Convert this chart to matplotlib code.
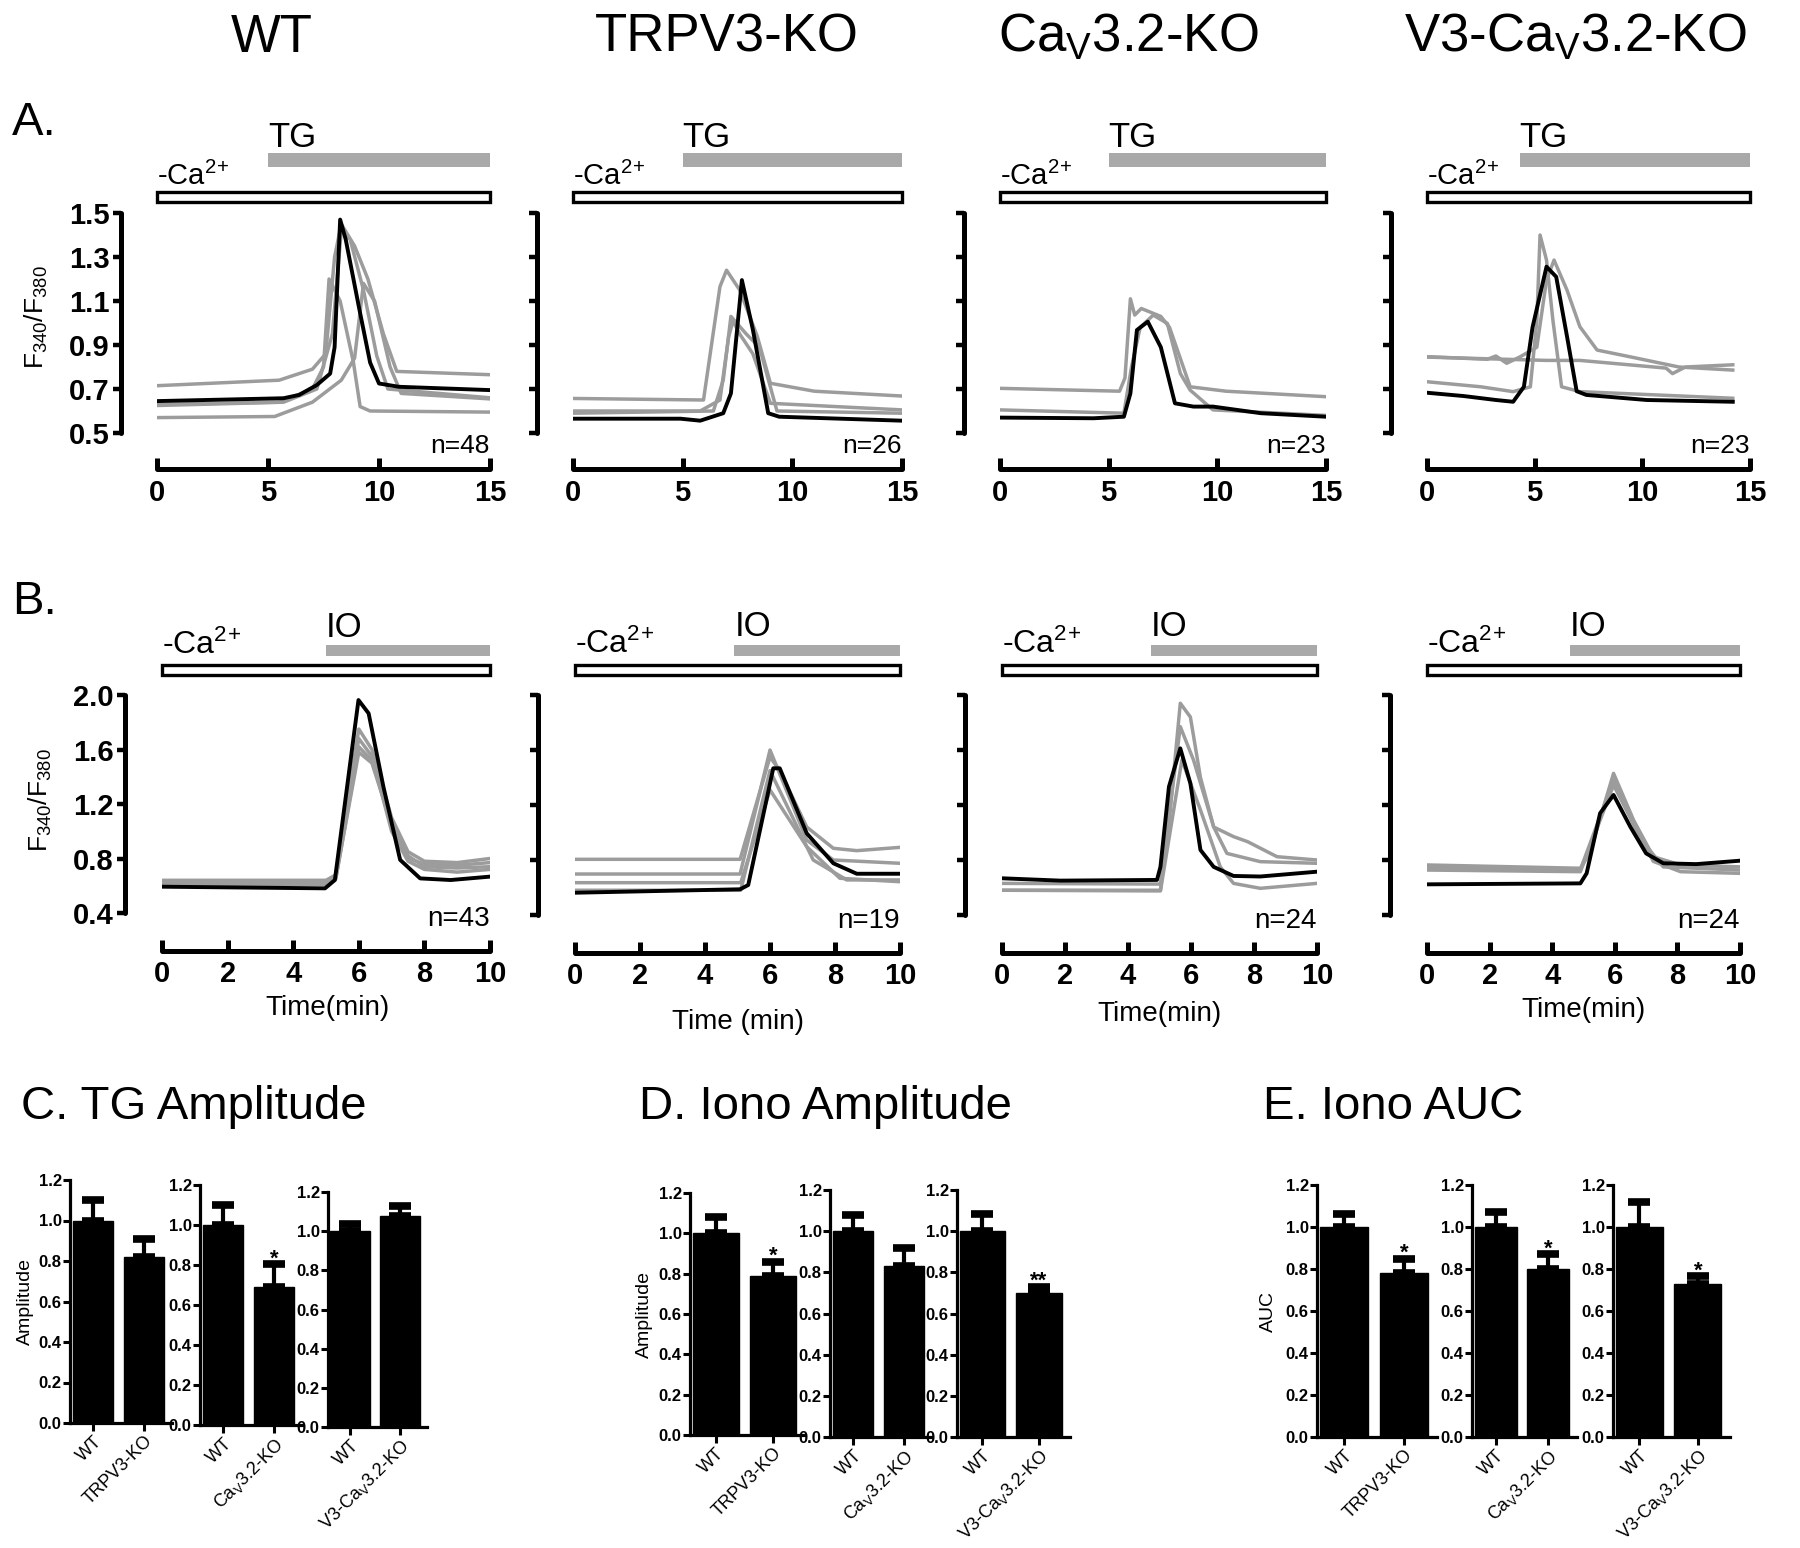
import numpy as np
import matplotlib
matplotlib.use('Agg')
import matplotlib.pyplot as plt
import matplotlib.transforms as mtransforms
from matplotlib.patches import Rectangle

plt.rcParams['font.family'] = ['Liberation Sans', 'DejaVu Sans']
plt.rcParams['mathtext.default'] = 'regular'

# ---------------- data ----------------
# column headers
genotypes = ['WT', 'TRPV3-KO', 'Ca$_V$3.2-KO', 'V3-Ca$_V$3.2-KO']

# A. thapsigargin traces (time in min, F340/F380)
a_wt_black = ([0, 5.7, 6.4, 7.2, 7.8, 8.0, 8.25, 8.5, 9.1, 9.6, 10.0, 10.9, 15],
              [0.645, 0.658, 0.673, 0.718, 0.77, 0.89, 1.47, 1.38, 1.07, 0.82, 0.725, 0.71, 0.695])
a_wt_gray = [
    ([0, 5.5, 7.0, 7.6, 8.0, 8.3, 8.9, 9.5, 10.2, 10.8, 15],
     [0.715, 0.74, 0.79, 0.86, 1.30, 1.45, 1.35, 1.20, 0.95, 0.78, 0.765]),
    ([0, 5.5, 7.0, 7.5, 7.75, 8.25, 8.85, 9.15, 9.6, 15],
     [0.63, 0.64, 0.70, 0.80, 1.20, 1.10, 0.82, 0.62, 0.60, 0.595]),
    ([0, 5.3, 7.0, 8.3, 8.9, 9.3, 9.8, 10.5, 11.0, 15],
     [0.57, 0.575, 0.64, 0.74, 0.84, 1.18, 1.10, 0.80, 0.68, 0.655]),
    ([0, 5.7, 7.2, 7.9, 8.3, 8.7, 9.3, 9.9, 10.4, 15],
     [0.625, 0.64, 0.70, 0.95, 1.42, 1.38, 1.15, 0.85, 0.70, 0.66]),
]
a_v3_black = ([0, 4.9, 5.8, 6.85, 7.2, 7.7, 8.2, 8.9, 9.4, 15],
              [0.565, 0.565, 0.556, 0.59, 0.68, 1.195, 0.97, 0.59, 0.574, 0.556])
a_v3_gray = [
    ([0, 5.95, 6.7, 7.0, 7.6, 8.4, 9.0, 11.0, 15],
     [0.657, 0.65, 1.165, 1.24, 1.15, 0.94, 0.726, 0.69, 0.668]),
    ([0, 5.8, 6.7, 7.1, 7.3, 7.6, 8.2, 9.0, 15],
     [0.60, 0.60, 0.65, 0.94, 1.01, 0.95, 0.86, 0.635, 0.605]),
    ([0, 6.4, 6.85, 7.2, 7.9, 8.5, 9.3, 15],
     [0.59, 0.60, 0.74, 1.03, 0.95, 0.89, 0.60, 0.59]),
]
a_cav_black = ([0, 4.3, 5.7, 6.0, 6.3, 6.8, 7.4, 8.05, 8.9, 9.8, 12, 15],
               [0.57, 0.567, 0.574, 0.68, 0.968, 1.006, 0.89, 0.635, 0.62, 0.62, 0.59, 0.574])
a_cav_gray = [
    ([0, 5.5, 5.75, 6.0, 6.2, 6.5, 7.4, 7.8, 8.75, 10.4, 15],
     [0.703, 0.69, 0.75, 1.11, 1.036, 1.066, 1.03, 0.98, 0.71, 0.69, 0.665]),
    ([0, 5.7, 6.05, 6.45, 7.05, 7.7, 8.3, 8.75, 9.8, 15],
     [0.605, 0.59, 0.80, 0.98, 1.036, 0.998, 0.77, 0.695, 0.605, 0.58]),
]
a_dko_black = ([0, 1.7, 3.2, 4.0, 4.5, 4.9, 5.55, 6.0, 6.5, 6.95, 7.4, 10.2, 14.2],
               [0.683, 0.668, 0.65, 0.642, 0.71, 0.98, 1.256, 1.21, 0.94, 0.69, 0.673, 0.65, 0.642])
a_dko_gray = [
    ([0, 2.8, 3.2, 3.7, 4.3, 5.1, 5.55, 5.9, 6.5, 7.1, 7.9, 9.4, 11.7, 14.2],
     [0.847, 0.835, 0.85, 0.817, 0.845, 0.89, 1.195, 1.286, 1.15, 0.983, 0.877, 0.847, 0.80, 0.786]),
    ([0, 5.55, 7.1, 11.1, 11.4, 12.0, 14.2],
     [0.845, 0.83, 0.83, 0.795, 0.77, 0.80, 0.81]),
    ([0, 2.5, 4.0, 4.8, 5.1, 5.25, 5.55, 5.85, 6.25, 7.1, 14.2],
     [0.733, 0.71, 0.688, 0.71, 1.01, 1.40, 1.286, 1.01, 0.71, 0.688, 0.658]),
]
a_tg_start = [5.0, 5.0, 5.0, 4.3]
a_n = ['n=48', 'n=26', 'n=23', 'n=23']

# B. ionomycin traces
b_wt_black = ([0, 4.97, 5.27, 5.99, 6.3, 6.75, 7.26, 7.87, 8.8, 10],
              [0.593, 0.581, 0.642, 1.963, 1.865, 1.327, 0.79, 0.654, 0.642, 0.667])
b_wt_gray = [
    ([0, 5.0, 5.3, 6.0, 6.4, 7.0, 7.5, 8.0, 9.0, 10], [0.64, 0.64, 0.68, 1.75, 1.60, 1.10, 0.85, 0.78, 0.77, 0.80]),
    ([0, 5.0, 5.3, 6.0, 6.4, 7.0, 7.5, 8.0, 9.0, 10], [0.62, 0.62, 0.66, 1.58, 1.50, 1.05, 0.82, 0.74, 0.73, 0.74]),
    ([0, 5.0, 5.3, 6.0, 6.4, 7.0, 7.5, 8.0, 9.0, 10], [0.63, 0.63, 0.67, 1.68, 1.55, 1.00, 0.78, 0.72, 0.70, 0.72]),
    ([0, 5.0, 5.3, 6.0, 6.4, 7.0, 7.5, 8.0, 9.0, 10], [0.61, 0.61, 0.65, 1.62, 1.52, 1.08, 0.80, 0.76, 0.75, 0.77]),
]
b_v3_black = ([0, 5.08, 5.33, 6.1, 6.3, 7.13, 7.95, 8.67, 10],
              [0.562, 0.587, 0.618, 1.467, 1.467, 0.994, 0.776, 0.70, 0.70])
b_v3_gray = [
    ([0, 5.08, 6.0, 6.3, 7.13, 7.95, 8.67, 10], [0.805, 0.805, 1.55, 1.45, 1.04, 0.885, 0.868, 0.892]),
    ([0, 5.08, 6.0, 7.13, 7.95, 10], [0.698, 0.698, 1.60, 0.945, 0.80, 0.776]),
    ([0, 5.1, 6.0, 7.13, 8.15, 10], [0.635, 0.635, 1.31, 0.897, 0.667, 0.642]),
    ([0, 5.1, 6.0, 7.33, 8.36, 10], [0.58, 0.58, 1.45, 0.80, 0.655, 0.655]),
]
b_cav_black = ([0, 1.85, 4.92, 5.03, 5.3, 5.66, 5.98, 6.3, 6.72, 7.35, 8.2, 10],
               [0.667, 0.65, 0.655, 0.75, 1.333, 1.612, 1.357, 0.873, 0.75, 0.684, 0.68, 0.715])
b_cav_gray = [
    ([0, 5.03, 5.34, 5.66, 5.98, 6.3, 6.72, 7.35, 7.8, 8.73, 10],
     [0.58, 0.58, 1.16, 1.94, 1.84, 1.40, 1.04, 0.97, 0.933, 0.824, 0.80]),
    ([0, 5.03, 5.66, 6.08, 6.72, 7.14, 8.2, 10], [0.63, 0.625, 1.77, 1.527, 1.04, 0.848, 0.788, 0.776]),
    ([0, 5.03, 5.71, 6.3, 6.93, 7.35, 8.2, 10], [0.58, 0.575, 1.527, 1.164, 0.75, 0.63, 0.594, 0.63]),
]
b_dko_black = ([0, 4.9, 5.1, 5.53, 5.96, 6.5, 7.0, 7.55, 8.6, 10],
               [0.623, 0.63, 0.703, 1.14, 1.273, 1.04, 0.848, 0.776, 0.77, 0.795])
b_dko_gray = [
    ([0, 4.9, 5.2, 5.96, 6.6, 7.23, 8.1, 10], [0.764, 0.74, 0.85, 1.43, 1.09, 0.824, 0.764, 0.75]),
    ([0, 4.9, 5.96, 6.6, 7.23, 8.1, 10], [0.727, 0.715, 1.345, 1.06, 0.79, 0.715, 0.703]),
    ([0, 4.9, 5.96, 6.8, 7.55, 10], [0.745, 0.73, 1.38, 0.96, 0.75, 0.727]),
]
b_io_start = [5.0, 4.9, 4.73, 4.57]
b_n = ['n=43', 'n=19', 'n=24', 'n=24']
time_labels = ['Time(min)', 'Time (min)', 'Time(min)', 'Time(min)']

# C-E. normalized bar charts (mean, SEM)
pairs = [['WT', 'TRPV3-KO'], ['WT', 'Ca$_V$3.2-KO'], ['WT', 'V3-Ca$_V$3.2-KO']]
tg_amp_mean = [[1.0, 0.82], [1.0, 0.69], [1.0, 1.08]]
tg_amp_err = [[0.10, 0.09], [0.10, 0.115], [0.035, 0.05]]
tg_amp_star = [['', ''], ['', '*'], ['', '']]
io_amp_mean = [[1.0, 0.79], [1.0, 0.83], [1.0, 0.70]]
io_amp_err = [[0.08, 0.07], [0.08, 0.09], [0.085, 0.03]]
io_amp_star = [['', '*'], ['', ''], ['', '**']]
io_auc_mean = [[1.0, 0.78], [1.0, 0.80], [1.0, 0.73]]
io_auc_err = [[0.06, 0.07], [0.07, 0.07], [0.12, 0.035]]
io_auc_star = [['', '*'], ['', '*'], ['', '*']]

# ---------------- figure ----------------
W, H = 1800, 1548
fig = plt.figure(figsize=(W / 100, H / 100), dpi=100)
GRAY_LINE = '#9c9c9c'
GRAY_BAR = '#a9a9a9'
CA_LABEL = '-Ca$^{2\\!+}$'


def px_axes(x0, x1, y0, y1):
    return fig.add_axes([x0 / W, 1 - y1 / H, (x1 - x0) / W, (y1 - y0) / H])


def ftext(x, y, s, **kw):
    return fig.text(x / W, 1 - y / H, s, **kw)


def trace_panel(rect, xmax, ylim, yticks, ylabels, xticks, black, grays,
                drug, drug_start, n_label, geo, show_ylab):
    ax = px_axes(*rect)
    for t, v in grays:
        ax.plot(t, v, color=GRAY_LINE, lw=2.5, solid_joinstyle='round')
    ax.plot(black[0], black[1], color='black', lw=2.8, solid_joinstyle='round')
    ax.set_xlim(0, xmax)
    ax.set_ylim(*ylim)
    for s in ['top', 'right']:
        ax.spines[s].set_visible(False)
    for s in ['left', 'bottom']:
        ax.spines[s].set_position(('outward', geo['off']))
        ax.spines[s].set_linewidth(3.6)
        ax.spines[s].set_capstyle('round')
    ax.set_xticks(xticks, [str(x) for x in xticks])
    ax.set_yticks(yticks, ylabels if show_ylab else [])
    ax.tick_params(axis='x', direction='in', length=8, width=3.6, pad=7,
                   labelsize=21)
    ax.tick_params(axis='y', direction='out', length=6, width=3.2, pad=2,
                   labelsize=21, labelleft=show_ylab)
    for lab in ax.get_xticklabels() + ax.get_yticklabels():
        lab.set_fontweight('bold')
    tr = mtransforms.blended_transform_factory(ax.transData, ax.transAxes)
    c0, c1 = geo['ca_bar']
    ax.add_patch(Rectangle((0, c0), xmax, c1 - c0, transform=tr, facecolor='white',
                           edgecolor='black', lw=2.4, clip_on=False))
    d0, d1 = geo['drug_bar']
    ax.add_patch(Rectangle((drug_start, d0), xmax - drug_start, d1 - d0, transform=tr,
                           facecolor=GRAY_BAR, edgecolor='none', clip_on=False))
    ax.text(drug_start, geo['drug_txt'], drug, transform=tr, fontsize=25,
            ha='left', va='baseline')
    ax.text(0, geo['ca_txt'], CA_LABEL, transform=tr, fontsize=geo['ca_fs'],
            ha='left', va='baseline')
    ax.text(xmax, geo['n_y'], n_label, transform=tr, fontsize=geo['n_fs'],
            ha='right', va='baseline')
    return ax


geo_a = dict(off=26, ca_bar=(1.05, 1.095), drug_bar=(1.209, 1.273), drug_txt=1.30,
             ca_txt=1.127, ca_fs=21, n_y=-0.09, n_fs=19)
geo_b = dict(off=27, ca_bar=(1.092, 1.138), drug_bar=(1.179, 1.229), drug_txt=1.266,
             ca_txt=1.19, ca_fs=23, n_y=-0.06, n_fs=20)

a_rects = [(157, 490, 213, 433), (573, 902, 213, 433), (1000, 1326, 213, 433),
           (1427, 1750, 213, 433)]
b_rects = [(162, 490, 695, 913), (575, 900, 695, 915), (1002, 1317, 695, 915),
           (1427, 1740, 695, 915)]
a_data = [(a_wt_black, a_wt_gray), (a_v3_black, a_v3_gray),
          (a_cav_black, a_cav_gray), (a_dko_black, a_dko_gray)]
b_data = [(b_wt_black, b_wt_gray), (b_v3_black, b_v3_gray),
          (b_cav_black, b_cav_gray), (b_dko_black, b_dko_gray)]

a_yt = [0.5, 0.7, 0.9, 1.1, 1.3, 1.5]
b_yt = [0.4, 0.8, 1.2, 1.6, 2.0]
for i in range(4):
    trace_panel(a_rects[i], 15, (0.5, 1.5), a_yt, ['%.1f' % y for y in a_yt],
                [0, 5, 10, 15], a_data[i][0], a_data[i][1], 'TG', a_tg_start[i],
                a_n[i], geo_a, i == 0)
    trace_panel(b_rects[i], 10, (0.4, 2.0), b_yt, ['%.1f' % y for y in b_yt],
                [0, 2, 4, 6, 8, 10], b_data[i][0], b_data[i][1], 'IO', b_io_start[i],
                b_n[i], geo_b, i == 0)

# headers and labels
for x, g in zip([272, 727, 1128, 1575], genotypes):
    ftext(x, 52, g, ha='center', va='baseline', fontsize=38)
ftext(12, 135, 'A.', ha='left', va='baseline', fontsize=34)
ftext(12, 614, 'B.', ha='left', va='baseline', fontsize=34)
ftext(36, 317, 'F$_{340}$/F$_{380}$', rotation=90, ha='center', va='center', fontsize=19)
ftext(40, 800, 'F$_{340}$/F$_{380}$', rotation=90, ha='center', va='center', fontsize=19)
for (x, y), s in zip([(327, 1008), (738, 1022), (1160, 1014), (1584, 1010)], time_labels):
    ftext(x, y, s, ha='center', va='center', fontsize=20)

ftext(21, 1119, 'C. TG Amplitude', ha='left', va='baseline', fontsize=34)
ftext(639, 1119, 'D. Iono Amplitude', ha='left', va='baseline', fontsize=34)
ftext(1263, 1119, 'E. Iono AUC', ha='left', va='baseline', fontsize=34)


def bar_panel(rect, labels, means, errs, stars, ylabel=None, ylab_px=0):
    ax = px_axes(*rect)
    x = np.arange(len(means))
    ax.bar(x, means, width=0.8, color='black', edgecolor='black', zorder=2)
    ax.errorbar(x, means, yerr=[np.zeros(len(errs)), errs], fmt='none', ecolor='black',
                elinewidth=3, capsize=8, capthick=5.5, zorder=1)
    for xi, m, e, s in zip(x, means, errs, stars):
        if s:
            ax.text(xi, m + e + 0.025, s, ha='center', va='center', fontsize=16,
                    fontweight='bold')
    ax.set_xlim(-0.45, 1.55)
    ax.set_ylim(0, 1.2)
    for s in ['top', 'right']:
        ax.spines[s].set_visible(False)
    for s in ['left', 'bottom']:
        ax.spines[s].set_linewidth(2.3)
    yt = np.arange(0, 1.21, 0.2)
    ax.set_yticks(yt, ['%.1f' % y for y in yt])
    ax.set_xticks(x, labels, rotation=45, ha='right', rotation_mode='anchor')
    ax.tick_params(axis='y', length=5, width=2.2, pad=1, labelsize=12)
    ax.tick_params(axis='x', length=6, width=2.2, pad=1, labelsize=13)
    for lab in ax.get_yticklabels():
        lab.set_fontweight('bold')
    if ylabel:
        ax.set_ylabel(ylabel, fontsize=14)
        ax.yaxis.set_label_coords(ylab_px / (rect[1] - rect[0]), 0.5)
    return ax


c_rects = [(70, 172, 1180, 1423), (200, 302, 1185, 1425), (328, 427, 1192, 1427)]
d_rects = [(690, 805, 1193, 1435), (830, 932, 1190, 1437), (957, 1070, 1190, 1437)]
e_rects = [(1317, 1437, 1185, 1437), (1472, 1577, 1185, 1437), (1613, 1730, 1185, 1437)]
for i in range(3):
    bar_panel(c_rects[i], pairs[i], tg_amp_mean[i], tg_amp_err[i], tg_amp_star[i],
              'Amplitude' if i == 0 else None, -36)
    bar_panel(d_rects[i], pairs[i], io_amp_mean[i], io_amp_err[i], io_amp_star[i],
              'Amplitude' if i == 0 else None, -37)
    bar_panel(e_rects[i], pairs[i], io_auc_mean[i], io_auc_err[i], io_auc_star[i],
              'AUC' if i == 0 else None, -40)

fig.savefig('out.png', dpi=100)
